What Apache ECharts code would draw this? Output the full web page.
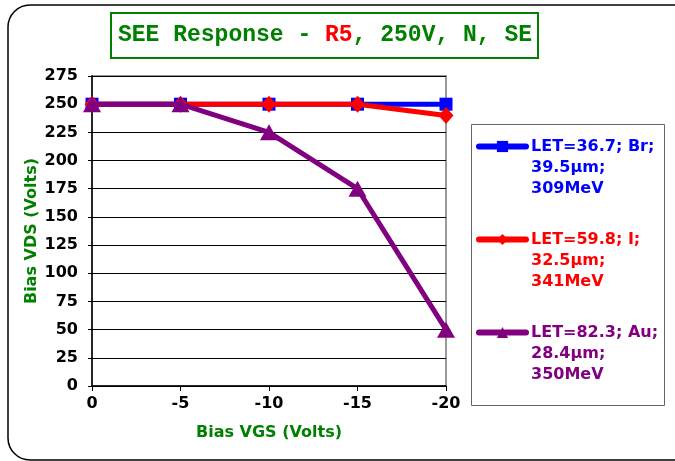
<!DOCTYPE html>
<html>
<head>
<meta charset="utf-8">
<script src="https://cdn.jsdelivr.net/npm/echarts@6/dist/echarts.min.js"></script>
<style>html,body{margin:0;padding:0;background:#fff;}#c{width:675px;height:461px;}</style>
</head>
<body>
<div id="c"></div>
<script>
const categories = ['0', '-5', '-10', '-15', '-20'];
const seriesNames = ['LET=36.7; Br;\n39.5µm;\n309MeV', 'LET=59.8; I;\n32.5µm;\n341MeV', 'LET=82.3; Au;\n28.4µm;\n350MeV'];
const brValues = [250, 250, 250, 250, 250];
const iValues = [250, 250, 250, 250, 240];
const auValues = [250, 250, 225, 175, 50];
const seriesColors = ['#0000ff', '#ff0000', '#800080'];
const yTicks = { min: 0, max: 275, interval: 25 };

const chart = echarts.init(document.getElementById('c'), null, { renderer: 'canvas' });
const FONT = 'DejaVu Sans';
const option = {
  backgroundColor: '#fff',
  animation: false,
  title: {
    left: 111, top: 13,
    padding: [11, 6, 11, 7],
    borderColor: '#008000', borderWidth: 2,
    text: '{g|SEE Response - }{r|R5}{g|, 250V, N, SE}',
    textStyle: {
      fontFamily: 'Liberation Mono', fontWeight: 'bold', fontSize: 23,
      rich: {
        g: { color: '#008000', fontFamily: 'Liberation Mono', fontWeight: 'bold', fontSize: 23 },
        r: { color: '#ff0000', fontFamily: 'Liberation Mono', fontWeight: 'bold', fontSize: 23 }
      }
    }
  },
  grid: {
    left: 92, right: 229, top: 76, bottom: 75,
    show: true, borderColor: '#999', borderWidth: 2, backgroundColor: '#fff'
  },
  legend: {
    orient: 'vertical', left: 476, top: 94, padding: 0,
    itemWidth: 47, itemHeight: 14, itemGap: -12,
    data: seriesNames.map((n, i) => ({ name: n, textStyle: { color: seriesColors[i] } })),
    formatter: (n) => '\n\n' + n,
    lineStyle: { width: 6, cap: 'round' },
    textStyle: { fontFamily: FONT, fontWeight: 'bold', fontSize: 16, lineHeight: 21 }
  },
  xAxis: {
    type: 'category', data: categories, boundaryGap: false,
    name: 'Bias VGS (Volts)', nameLocation: 'middle', nameGap: 39,
    nameTextStyle: { color: '#008000', fontFamily: FONT, fontWeight: 'bold', fontSize: 16 },
    axisLine: { lineStyle: { color: '#000', width: 1.5 } },
    axisTick: { show: true, inside: false, length: 5, lineStyle: { color: '#000' } },
    axisLabel: { color: '#000', fontFamily: FONT, fontWeight: 'bold', fontSize: 16, margin: 10 },
    splitLine: { show: false }
  },
  yAxis: {
    type: 'value', min: yTicks.min, max: yTicks.max, interval: yTicks.interval,
    name: 'Bias VDS (Volts)', nameLocation: 'middle', nameGap: 52, nameMoveOverlap: false,
    nameTextStyle: { color: '#008000', fontFamily: FONT, fontWeight: 'bold', fontSize: 16 },
    axisLine: { show: true, lineStyle: { color: '#000', width: 1.5 } },
    axisTick: { show: true, inside: false, length: 4, lineStyle: { color: '#000' } },
    axisLabel: { color: '#000', fontFamily: FONT, fontWeight: 'bold', fontSize: 16, margin: 14 },
    splitLine: { show: true, lineStyle: { color: '#000', width: 1 } }
  },
  graphic: [
    { type: 'rect', shape: { x: 8, y: 5, width: 700, height: 455, r: 22 }, style: { fill: 'none', stroke: '#000', lineWidth: 1.5 }, z: -1, silent: true },
    { type: 'rect', shape: { x: 471.5, y: 124.5, width: 193, height: 281 }, style: { fill: 'none', stroke: '#666', lineWidth: 1 }, z: 0, silent: true }
  ],
  series: [
    { name: seriesNames[0], type: 'line', data: brValues, color: seriesColors[0],
      symbol: 'rect', symbolSize: 13, lineStyle: { width: 5 }, itemStyle: { color: seriesColors[0] }, z: 2 },
    { name: seriesNames[1], type: 'line', data: iValues, color: seriesColors[1],
      symbol: 'diamond', symbolSize: [15, 17], lineStyle: { width: 5 }, itemStyle: { color: seriesColors[1] }, z: 3 },
    { name: seriesNames[2], type: 'line', data: auValues, color: seriesColors[2],
      symbol: 'triangle', symbolSize: [18, 16], lineStyle: { width: 5 }, itemStyle: { color: seriesColors[2] }, z: 4 }
  ]
};
chart.setOption(option);
</script>
</body>
</html>
